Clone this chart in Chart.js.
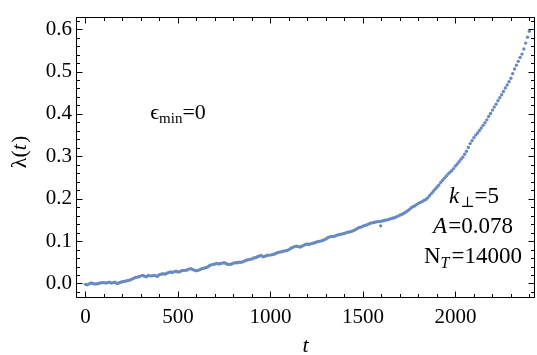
<!DOCTYPE html>
<html>
<head>
<meta charset="utf-8">
<script src="https://cdn.jsdelivr.net/npm/chart.js@4.4.0/dist/chart.umd.min.js"></script>
<style>
  html, body { margin: 0; padding: 0; background: #fff; }
  #wrap { width: 537px; height: 355px; }
</style>
</head>
<body>
<div id="wrap"><canvas id="lambda-chart" width="537" height="355"></canvas></div>
<script>
"use strict";
// time samples (every 20 steps) and lambda(t)
const t_values = [
    0, 20, 40, 60, 80, 100, 120, 140, 160, 180,
    200, 220, 240, 260, 280, 300, 320, 340, 360, 380,
    400, 420, 440, 460, 480, 500, 520, 540, 560, 580,
    600, 620, 640, 660, 680, 700, 720, 740, 760, 780,
    800, 820, 840, 860, 880, 900, 920, 940, 960, 980,
    1000, 1020, 1040, 1060, 1080, 1100, 1120, 1140, 1160, 1180,
    1200, 1220, 1240, 1260, 1280, 1300, 1320, 1340, 1360, 1380,
    1400, 1420, 1440, 1460, 1480, 1500, 1520, 1540, 1560, 1580,
    1600, 1620, 1640, 1660, 1680, 1700, 1720, 1740, 1760, 1780,
    1800, 1820, 1840, 1860, 1880, 1900, 1920, 1940, 1960, 1980,
    2000, 2020, 2040, 2060, 2080, 2100, 2120, 2140, 2160, 2180,
    2200, 2220, 2240, 2260, 2280, 2300, 2320, 2340, 2360, 2380,
    2400
];
const lambda_values = [
    -0.002, -0.001, 0.000, -0.001, 0.001, 0.002, 0.002, 0.001, 0.003, 0.001,
    0.004, 0.006, 0.008, 0.012, 0.015, 0.018, 0.017, 0.019, 0.018, 0.018,
    0.021, 0.023, 0.024, 0.027, 0.028, 0.027, 0.030, 0.031, 0.034, 0.033,
    0.030, 0.033, 0.036, 0.039, 0.044, 0.046, 0.046, 0.048, 0.047, 0.045,
    0.048, 0.049, 0.050, 0.053, 0.056, 0.058, 0.061, 0.065, 0.063, 0.066,
    0.067, 0.069, 0.073, 0.075, 0.077, 0.080, 0.085, 0.088, 0.086, 0.090,
    0.093, 0.094, 0.096, 0.099, 0.101, 0.105, 0.110, 0.111, 0.114, 0.116,
    0.118, 0.121, 0.123, 0.127, 0.132, 0.135, 0.138, 0.142, 0.144, 0.146,
    0.147, 0.149, 0.151, 0.154, 0.157, 0.161, 0.165, 0.171, 0.178, 0.183,
    0.189, 0.193, 0.198, 0.207, 0.217, 0.227, 0.238, 0.248, 0.258, 0.266,
    0.277, 0.287, 0.298, 0.312, 0.330, 0.344, 0.355, 0.367, 0.379, 0.394,
    0.409, 0.423, 0.438, 0.453, 0.468, 0.484, 0.506, 0.524, 0.541, 0.567,
    0.595
];
// in-between samples (t = 10, 30, ...)
const t_mid = [
    10, 30, 50, 70, 90, 110, 130, 150, 170, 190,
    210, 230, 250, 270, 290, 310, 330, 350, 370, 390,
    410, 430, 450, 470, 490, 510, 530, 550, 570, 590,
    610, 630, 650, 670, 690, 710, 730, 750, 770, 790,
    810, 830, 850, 870, 890, 910, 930, 950, 970, 990,
    1010, 1030, 1050, 1070, 1090, 1110, 1130, 1150, 1170, 1190,
    1210, 1230, 1250, 1270, 1290, 1310, 1330, 1350, 1370, 1390,
    1410, 1430, 1450, 1470, 1490, 1510, 1530, 1550, 1570, 1590,
    1610, 1630, 1650, 1670, 1690, 1710, 1730, 1750, 1770, 1790,
    1810, 1830, 1850, 1870, 1890, 1910, 1930, 1950, 1970, 1990,
    2010, 2030, 2050, 2070, 2090, 2110, 2130, 2150, 2170, 2190,
    2210, 2230, 2250, 2270, 2290, 2310, 2330, 2350, 2370, 2390
];
const lambda_mid = [
    -0.003, 0.001, -0.001, 0.000, 0.002, 0.001, 0.003, 0.002, 0.000, 0.003,
    0.005, 0.007, 0.010, 0.014, 0.016, 0.019, 0.016, 0.018, 0.019, 0.017,
    0.022, 0.022, 0.026, 0.026, 0.029, 0.028, 0.031, 0.032, 0.035, 0.031,
    0.031, 0.035, 0.037, 0.042, 0.045, 0.047, 0.047, 0.049, 0.045, 0.046,
    0.049, 0.050, 0.051, 0.055, 0.057, 0.060, 0.063, 0.066, 0.064, 0.067,
    0.068, 0.071, 0.074, 0.076, 0.078, 0.083, 0.087, 0.087, 0.088, 0.092,
    0.092, 0.095, 0.098, 0.100, 0.103, 0.108, 0.111, 0.112, 0.115, 0.117,
    0.120, 0.122, 0.125, 0.130, 0.133, 0.137, 0.140, 0.143, 0.145, 0.146,
    0.148, 0.150, 0.153, 0.155, 0.159, 0.163, 0.168, 0.174, 0.181, 0.186,
    0.191, 0.196, 0.202, 0.212, 0.222, 0.232, 0.243, 0.253, 0.262, 0.271,
    0.282, 0.293, 0.305, 0.321, 0.337, 0.350, 0.361, 0.373, 0.386, 0.401,
    0.416, 0.431, 0.445, 0.461, 0.476, 0.495, 0.515, 0.533, 0.553, 0.581
];
// the one stray point below the curve
const outlier_t = [1596];
const outlier_lambda = [0.136];

const x_tick_labels = [0, 500, 1000, 1500, 2000];
const y_tick_labels = [0.0, 0.1, 0.2, 0.3, 0.4, 0.5, 0.6];

let x_minor = [];
for (let v = 100; v <= 2400; v += 100) x_minor.push(v);
let y_minor = [];
for (let v = -0.02; v <= 0.63; v += 0.02) y_minor.push(Math.round(v * 100) / 100);

const point_color = 'rgb(104, 138, 192)';
const serif = '"Liberation Serif", "DejaVu Serif", serif';

let points = t_values.map((t, i) => ({ x: t, y: lambda_values[i] }));
t_mid.forEach((t, i) => points.push({ x: t, y: lambda_mid[i] }));
outlier_t.forEach((t, i) => points.push({ x: t, y: outlier_lambda[i] }));

// write a row of text pieces centred on cx (gap = extra space after a piece)
function drawRuns(ctx, runs, cx, baseline) {
    let total = 0;
    runs.forEach(r => {
        ctx.font = r.font;
        r.w = ctx.measureText(r.text).width + (r.gap || 0);
        total += r.w;
    });
    let x = cx - total / 2;
    runs.forEach(r => {
        ctx.font = r.font;
        ctx.fillText(r.text, x, baseline + (r.dy || 0));
        x += r.w;
    });
}

const framePlugin = {
    id: 'frame',
    afterDraw(chart) {
        const ctx = chart.ctx;
        const a = chart.chartArea;
        const xs = chart.scales.x, ys = chart.scales.y;
        ctx.save();
        ctx.strokeStyle = '#000';
        ctx.lineWidth = 1;
        const L = Math.round(a.left) + 0.5, R = Math.round(a.right) - 0.5;
        const T = Math.round(a.top) + 0.5, B = Math.round(a.bottom) - 0.5;
        ctx.strokeRect(L, T, R - L, B - T);
        ctx.beginPath();
        const xtick = (v, len) => {
            const p = Math.round(xs.getPixelForValue(v)) + 0.5;
            ctx.moveTo(p, B); ctx.lineTo(p, B - len);
            ctx.moveTo(p, T); ctx.lineTo(p, T + len);
        };
        const ytick = (v, len) => {
            const p = Math.round(ys.getPixelForValue(v)) + 0.5;
            ctx.moveTo(L, p); ctx.lineTo(L + len, p);
            ctx.moveTo(R, p); ctx.lineTo(R - len, p);
        };
        x_tick_labels.forEach(v => xtick(v, 6));
        x_minor.forEach(v => { if (v % 500 !== 0) xtick(v, 3.5); });
        y_tick_labels.forEach(v => ytick(v, 6));
        y_minor.forEach(v => { if (Math.abs(v * 10 - Math.round(v * 10)) > 1e-6) ytick(v, 3.5); });
        ctx.stroke();

        ctx.fillStyle = '#000';
        ctx.textBaseline = 'alphabetic';
        // axis titles
        drawRuns(ctx, [{ text: 't', font: 'italic 22px ' + serif }], (a.left + a.right) / 2, 352);
        ctx.save();
        ctx.translate(26, 152);
        ctx.rotate(-Math.PI / 2);
        drawRuns(ctx, [
            { text: 'λ(', font: '22px ' + serif },
            { text: 't', font: 'italic 22px ' + serif, gap: 1 },
            { text: ')', font: '22px ' + serif }
        ], 0, 0);
        ctx.restore();

        // annotations
        drawRuns(ctx, [
            { text: 'ϵ', font: '22px ' + serif },
            { text: 'min', font: '15px ' + serif, dy: 4 },
            { text: '=0', font: '22px ' + serif }
        ], 178, 118.5);
        drawRuns(ctx, [
            { text: 'k', font: 'italic 23px ' + serif, gap: 1 },
            { text: '⊥', font: '15px ' + serif, dy: 4 },
            { text: '=5', font: '23px ' + serif }
        ], 474, 203);
        drawRuns(ctx, [
            { text: 'A', font: 'italic 23px ' + serif, gap: 1 },
            { text: '=0.078', font: '23px ' + serif }
        ], 473, 233);
        drawRuns(ctx, [
            { text: 'N', font: '23px ' + serif },
            { text: 'T', font: 'italic 16px ' + serif, dy: 5, gap: 2 },
            { text: '=14000', font: '23px ' + serif }
        ], 473, 263);
        ctx.restore();
    }
};

const lambdaChart = new Chart(document.getElementById('lambda-chart'), {
    type: 'scatter',
    data: {
        datasets: [{
            label: 'lambda',
            data: points,
            backgroundColor: point_color,
            borderWidth: 0,
            pointRadius: 1.7,
            pointHoverRadius: 1.7,
        }],
    },
    options: {
        responsive: false,
        animation: false,
        devicePixelRatio: 1,
        layout: { padding: { left: 0, right: 1, top: 13, bottom: 0 } },
        plugins: { legend: { display: false }, tooltip: { enabled: false } },
        scales: {
            x: {
                type: 'linear',
                min: -51,
                max: 2432,
                grid: { display: false, drawTicks: false },
                border: { display: false },
                afterBuildTicks: (s) => { s.ticks = x_tick_labels.map(v => ({ value: v })); },
                afterFit: (s) => { s.height = 57.3; },
                ticks: {
                    padding: 7,
                    color: '#000',
                    font: { family: serif, size: 21 },
                    maxRotation: 0,
                    callback: (v) => String(v),
                },
            },
            y: {
                type: 'linear',
                min: -0.0335,
                max: 0.6295,
                grid: { display: false, drawTicks: false },
                border: { display: false },
                afterBuildTicks: (s) => { s.ticks = y_tick_labels.map(v => ({ value: v })); },
                afterFit: (s) => { s.width = 76; },
                ticks: {
                    padding: 4,
                    color: '#000',
                    font: { family: serif, size: 21 },
                    callback: (v) => v.toFixed(1),
                },
            },
        },
    },
    plugins: [framePlugin],
});
</script>
</body>
</html>
